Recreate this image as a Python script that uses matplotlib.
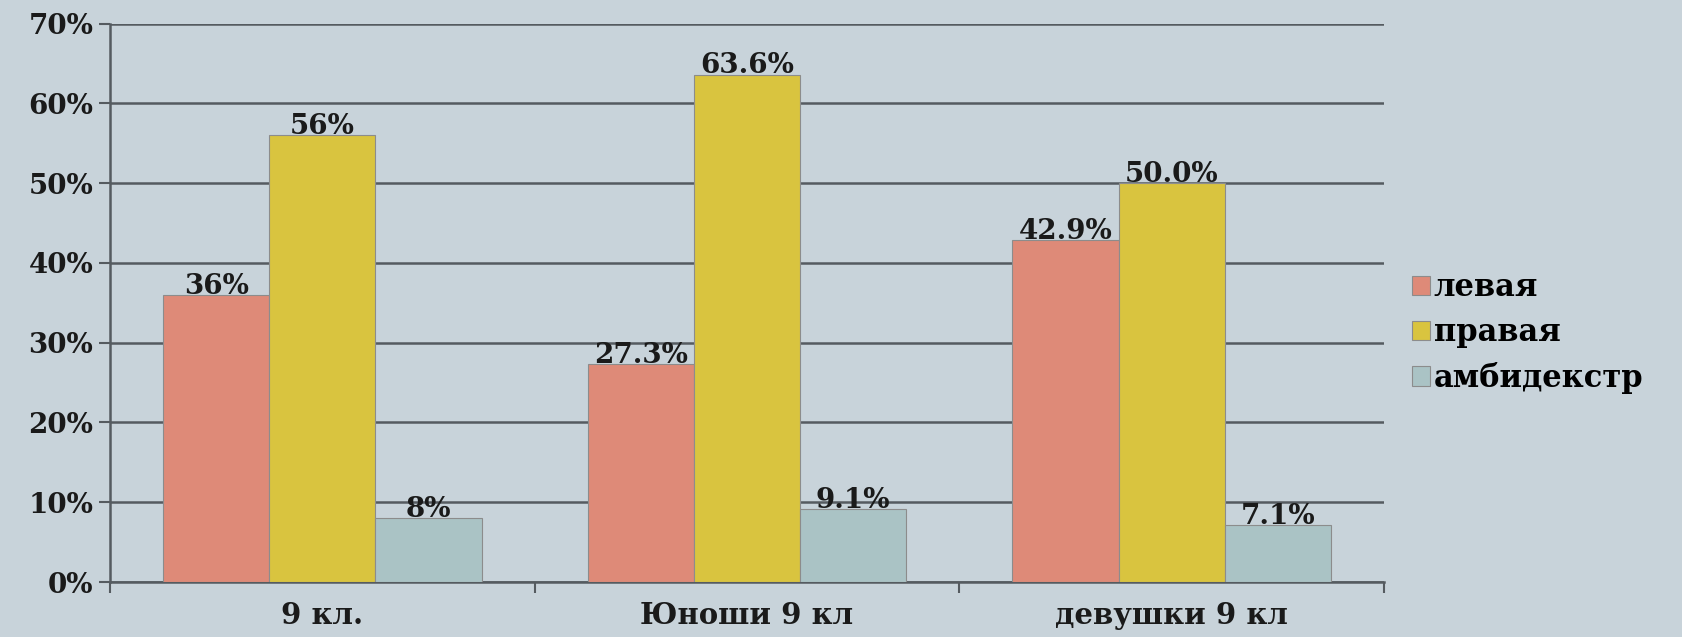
import matplotlib.pyplot as plt
import numpy as np

categories = ["9 кл.", "Юноши 9 кл", "девушки 9 кл"]
series = ["левая", "правая", "амбидекстр"]
left = [36.0, 27.3, 42.9]
right = [56.0, 63.6, 50.0]
ambi = [8.0, 9.1, 7.1]
labels = [["36%", "27.3%", "42.9%"], ["56%", "63.6%", "50.0%"], ["8%", "9.1%", "7.1%"]]
yticks = [0, 10, 20, 30, 40, 50, 60, 70]

colors = ["#de8a78", "#d9c43f", "#aac3c5"]
bg = "#c8d3da"
font = "DejaVu Serif"

fig = plt.figure(figsize=(16.82, 6.37), dpi=100, facecolor=bg)
ax = fig.add_axes([0.0654, 0.0863, 0.7574, 0.8767])
ax.set_facecolor(bg)

x = np.arange(len(categories))
w = 0.25
for i, (vals, col, name) in enumerate(zip([left, right, ambi], colors, series)):
    bars = ax.bar(x + (i - 1) * w, vals, w, color=col, edgecolor="#8c8c8c",
                  linewidth=0.8, label=name, zorder=3)
    for b, t in zip(bars, labels[i]):
        ax.text(b.get_x() + b.get_width() / 2, b.get_height() - 0.6, t,
                ha="center", va="bottom", fontsize=20, fontweight="bold",
                family=font, color="#1a1a1a", zorder=4)

ax.set_ylim(0, 70)
ax.set_xlim(-0.5, 2.5)
ax.set_yticks(yticks)
ax.set_yticklabels([f"{v}%" for v in yticks], fontsize=20, fontweight="bold",
                   family=font, color="#1a1a1a")
ax.yaxis.grid(True, color="#555b60", linewidth=1.8, zorder=1)
ax.set_xticks([-0.5, 0.5, 1.5, 2.5])
ax.set_xticklabels([])
ax.set_xticks(x, minor=True)
ax.set_xticklabels(categories, minor=True, fontsize=21, fontweight="bold",
                   family=font, color="#1a1a1a")
ax.tick_params(axis="x", which="minor", length=0, pad=14)
ax.tick_params(axis="x", which="major", length=8, width=1.5, color="#555b60")
ax.tick_params(axis="y", length=8, width=1.5, color="#555b60", pad=4)
for s in ["top", "right"]:
    ax.spines[s].set_visible(False)
for s in ["left", "bottom"]:
    ax.spines[s].set_color("#555b60")
    ax.spines[s].set_linewidth(1.8)

leg = fig.legend(loc="center left", bbox_to_anchor=(0.823, 0.477), frameon=False,
                 handlelength=0.6, handleheight=0.6, handletextpad=0.12,
                 labelspacing=0.45, prop={"family": font, "weight": "bold", "size": 22})

fig.savefig("out.png", dpi=100, facecolor=bg)
